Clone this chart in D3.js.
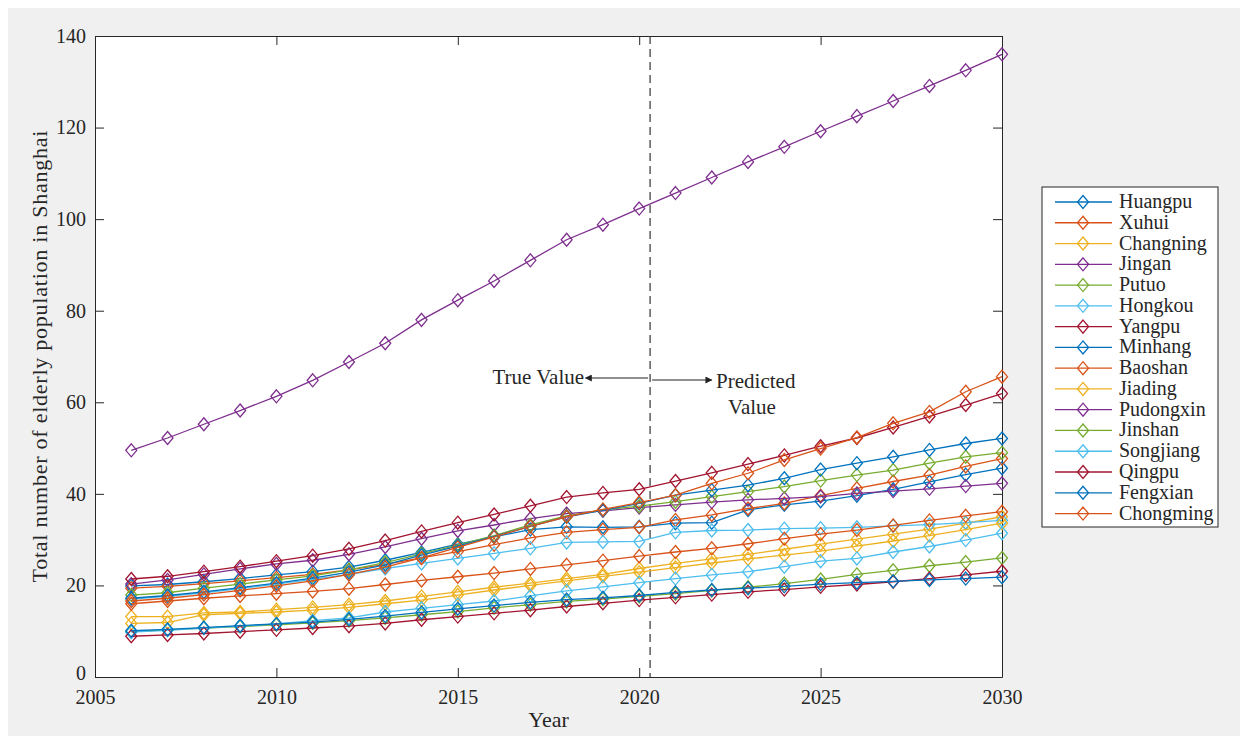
<!DOCTYPE html>
<html>
<head>
<meta charset="utf-8">
<script src="https://cdn.jsdelivr.net/npm/d3@7"></script>
<style>
  body { margin: 0; background: #fff; }
  svg { display: block; }
  text { font-family: "Liberation Serif", "Times New Roman", serif; fill: #262626; }
</style>
</head>
<body>
<script>
// years on the x axis
const years = [2006, 2007, 2008, 2009, 2010, 2011, 2012, 2013, 2014, 2015, 2016, 2017, 2018,
  2019, 2020, 2021, 2022, 2023, 2024, 2025, 2026, 2027, 2028, 2029, 2030];

const districts = ['Huangpu', 'Xuhui', 'Changning', 'Jingan', 'Putuo', 'Hongkou', 'Yangpu', 'Minhang',
  'Baoshan', 'Jiading', 'Pudongxin', 'Jinshan', 'Songjiang', 'Qingpu', 'Fengxian', 'Chongming'];

// elderly population (10k)
const huangpu   = [19.9, 20.2, 20.8, 21.5, 22.3, 23.0, 24.0, 25.5, 27.2, 29.0, 30.6, 32.2, 32.8, 32.7, 32.8, 33.6, 33.7, 36.5, 37.6, 38.4, 39.6, 41.0, 42.6, 44.2, 45.6];
const xuhui     = [19.4, 19.8, 20.4, 21.0, 21.7, 22.4, 23.4, 24.6, 26.0, 27.4, 28.9, 30.4, 31.6, 32.2, 32.7, 34.3, 35.4, 36.8, 37.9, 39.6, 41.2, 42.7, 44.1, 46.0, 47.7];
const changning = [13.2, 13.2, 14.0, 14.2, 14.7, 15.2, 15.8, 16.6, 17.6, 18.6, 19.6, 20.5, 21.5, 22.4, 23.7, 24.8, 25.8, 26.8, 27.9, 29.0, 30.1, 31.2, 32.3, 33.6, 35.0];
const jingan    = [20.3, 21.2, 22.4, 23.6, 24.7, 25.5, 26.8, 28.4, 30.2, 31.9, 33.2, 34.6, 35.7, 36.3, 37.0, 37.6, 38.2, 38.7, 39.0, 39.4, 40.1, 40.6, 41.1, 41.7, 42.3];
const putuo     = [17.9, 18.4, 19.4, 20.3, 21.2, 22.1, 23.4, 25.0, 26.9, 28.8, 30.9, 33.2, 35.2, 36.5, 37.3, 38.3, 39.4, 40.5, 41.6, 42.9, 44.1, 45.2, 46.7, 48.1, 49.0];
const hongkou   = [17.0, 17.6, 18.4, 19.3, 20.3, 21.3, 22.4, 23.7, 24.8, 25.9, 27.0, 28.1, 29.4, 29.5, 29.6, 31.6, 32.0, 32.1, 32.4, 32.5, 32.7, 33.0, 33.3, 33.7, 34.2];
const yangpu    = [21.4, 22.0, 23.0, 24.1, 25.3, 26.5, 28.0, 29.8, 31.8, 33.7, 35.5, 37.4, 39.3, 40.2, 41.0, 42.8, 44.6, 46.5, 48.4, 50.4, 52.2, 54.5, 56.9, 59.4, 61.9];
const minhang   = [17.2, 17.8, 18.6, 19.5, 20.5, 21.6, 22.9, 24.5, 26.6, 28.6, 30.7, 32.9, 35.0, 36.4, 37.9, 39.7, 40.8, 41.9, 43.4, 45.3, 46.7, 48.1, 49.6, 51.0, 52.1];
const baoshan   = [16.6, 17.2, 18.0, 18.9, 19.9, 21.0, 22.4, 24.0, 26.0, 28.3, 30.6, 32.9, 35.0, 36.6, 38.1, 39.7, 42.3, 44.5, 47.4, 49.9, 52.3, 55.4, 57.9, 62.3, 65.6];
const jiading   = [11.7, 11.9, 13.6, 13.9, 14.2, 14.6, 15.2, 16.0, 16.8, 17.9, 19.0, 20.0, 21.0, 22.0, 22.9, 23.9, 24.9, 25.8, 26.6, 27.5, 28.6, 29.7, 30.9, 32.2, 33.6];
const pudongxin = [49.5, 52.2, 55.2, 58.2, 61.3, 64.8, 68.8, 72.9, 78.0, 82.3, 86.5, 91.0, 95.5, 98.8, 102.3, 105.7, 109.1, 112.5, 115.8, 119.2, 122.5, 125.8, 129.1, 132.5, 136.0];
const jinshan   = [9.9, 10.3, 10.7, 11.0, 11.4, 11.8, 12.3, 12.9, 13.6, 14.3, 15.1, 15.8, 16.5, 17.0, 17.6, 18.2, 18.9, 19.6, 20.4, 21.3, 22.4, 23.3, 24.3, 25.1, 26.0];
const songjiang = [9.8, 10.2, 10.7, 11.1, 11.6, 12.3, 12.9, 14.2, 15.0, 15.8, 16.6, 17.7, 18.8, 19.7, 20.6, 21.5, 22.3, 23.0, 24.1, 25.3, 25.9, 27.3, 28.5, 29.9, 31.4];
const qingpu    = [8.9, 9.2, 9.5, 9.9, 10.3, 10.7, 11.1, 11.7, 12.5, 13.2, 13.9, 14.6, 15.4, 16.1, 16.8, 17.4, 18.0, 18.6, 19.1, 19.7, 20.2, 20.8, 21.5, 22.3, 23.1];
const fengxian  = [10.1, 10.4, 10.8, 11.2, 11.6, 12.0, 12.6, 13.3, 14.1, 14.9, 15.6, 16.3, 16.9, 17.3, 17.8, 18.5, 19.0, 19.4, 19.8, 20.3, 20.6, 20.9, 21.2, 21.5, 21.8];
const chongming = [16.0, 16.6, 17.2, 17.7, 18.2, 18.7, 19.3, 20.2, 21.1, 21.9, 22.7, 23.6, 24.5, 25.4, 26.4, 27.3, 28.1, 29.1, 30.2, 31.2, 32.1, 33.1, 34.2, 35.2, 36.1];

const xTicks = [2005, 2010, 2015, 2020, 2025, 2030];
const yTicks = [0, 20, 40, 60, 80, 100, 120, 140];
const splitYear = 2020.3;

const allValues = [huangpu, xuhui, changning, jingan, putuo, hongkou, yangpu, minhang,
  baoshan, jiading, pudongxin, jinshan, songjiang, qingpu, fengxian, chongming];

// matlab default line order
const palette = ['#0072BD', '#D95319', '#EDB120', '#7E2F8E', '#77AC30', '#4DBEEE', '#A2142F'];

const series = districts.map((name, i) => ({
  name,
  color: palette[i % palette.length],
  points: years.map((yr, j) => ({ year: yr, value: allValues[i][j] }))
}));

const W = 1240, H = 736;
const plotL = 95, plotR = 1002, plotT = 36, plotB = 677;

const svg = d3.select('body').append('svg')
  .attr('width', W)
  .attr('height', H);

// figure background
svg.append('rect')
  .attr('x', 8).attr('y', 8)
  .attr('width', W - 8).attr('height', H - 8)
  .attr('fill', '#f0f0f0');

svg.append('rect')
  .attr('x', plotL).attr('y', plotT)
  .attr('width', plotR - plotL).attr('height', plotB - plotT)
  .attr('fill', '#fff');

const x = d3.scaleLinear().domain([2005, 2030]).range([plotL, plotR]);
const y = d3.scaleLinear().domain([0, 140]).range([plotB, plotT]);

const tickLen = 9;

const gx = svg.append('g')
  .attr('transform', `translate(0,${plotB})`)
  .call(d3.axisBottom(x).tickValues(xTicks).tickFormat(d3.format('d'))
    .tickSizeInner(-tickLen).tickSizeOuter(0).tickPadding(13));

const gy = svg.append('g')
  .attr('transform', `translate(${plotL},0)`)
  .call(d3.axisLeft(y).tickValues(yTicks)
    .tickSizeInner(-tickLen).tickSizeOuter(0).tickPadding(9));

const gxTop = svg.append('g')
  .attr('transform', `translate(0,${plotT})`)
  .call(d3.axisTop(x).tickValues(xTicks).tickFormat('')
    .tickSizeInner(-tickLen).tickSizeOuter(0));

const gyRight = svg.append('g')
  .attr('transform', `translate(${plotR},0)`)
  .call(d3.axisRight(y).tickValues(yTicks).tickFormat('')
    .tickSizeInner(-tickLen).tickSizeOuter(0));

[gx, gy, gxTop, gyRight].forEach(g => {
  g.select('.domain').attr('stroke', '#262626').attr('stroke-width', 1);
  g.selectAll('.tick line').attr('stroke', '#262626');
  g.selectAll('.tick text')
    .attr('fill', '#262626')
    .style('font-family', '"Liberation Serif", serif')
    .style('font-size', '20px');
});

// the zero label sits a little higher so it clears the 2005 label
gy.selectAll('.tick text').filter(d => d === 0).attr('dy', '0.12em');

// axis titles
svg.append('text')
  .attr('x', (plotL + plotR) / 2)
  .attr('y', 727)
  .attr('text-anchor', 'middle')
  .style('font-size', '22px')
  .text('Year');

svg.append('text')
  .attr('transform', `translate(47,${(plotT + plotB) / 2}) rotate(-90)`)
  .attr('text-anchor', 'middle')
  .attr('textLength', 452)
  .attr('lengthAdjust', 'spacing')
  .style('font-size', '22px')
  .text('Total number of elderly population in Shanghai');

// split between observed and predicted
svg.append('line')
  .attr('x1', x(splitYear)).attr('x2', x(splitYear))
  .attr('y1', plotT).attr('y2', plotB)
  .attr('stroke', '#333')
  .attr('stroke-width', 1.2)
  .attr('stroke-dasharray', '8,5');

const line = d3.line()
  .x(d => x(d.year))
  .y(d => y(d.value));

const diamond = 'M0,-6.5L5.5,0L0,6.5L-5.5,0Z';

const groups = svg.append('g')
  .selectAll('g')
  .data(series)
  .enter()
  .append('g');

groups.append('path')
  .attr('d', d => line(d.points))
  .attr('fill', 'none')
  .attr('stroke', d => d.color)
  .attr('stroke-width', 1.3);

groups.selectAll('path.mk')
  .data(d => d.points.map(p => ({ ...p, color: d.color })))
  .enter()
  .append('path')
  .attr('class', 'mk')
  .attr('d', diamond)
  .attr('transform', d => `translate(${x(d.year)},${y(d.value)})`)
  .attr('fill', 'none')
  .attr('stroke', d => d.color)
  .attr('stroke-width', 1.3);

// arrows + labels
const defs = svg.append('defs');
defs.append('marker')
  .attr('id', 'arrow')
  .attr('viewBox', '0 0 10 10')
  .attr('refX', 9).attr('refY', 5)
  .attr('markerWidth', 9).attr('markerHeight', 7)
  .attr('markerUnits', 'userSpaceOnUse')
  .attr('orient', 'auto')
  .append('path')
  .attr('d', 'M0,0L10,5L0,10Z')
  .attr('fill', '#222');

const arrowY = y(65.3);
svg.append('line')
  .attr('x1', x(splitYear) - 2).attr('x2', x(2018.52))
  .attr('y1', arrowY).attr('y2', arrowY)
  .attr('stroke', '#222').attr('stroke-width', 1.1)
  .attr('marker-end', 'url(#arrow)');
svg.append('line')
  .attr('x1', x(splitYear) + 2).attr('x2', x(2022.0))
  .attr('y1', arrowY + 2).attr('y2', arrowY + 2)
  .attr('stroke', '#222').attr('stroke-width', 1.1)
  .attr('marker-end', 'url(#arrow)');

svg.append('text')
  .attr('x', x(2018.48)).attr('y', arrowY + 6)
  .attr('text-anchor', 'end')
  .style('font-size', '21px')
  .text('True Value');
svg.append('text')
  .attr('x', x(2022.12)).attr('y', arrowY + 10)
  .style('font-size', '21px')
  .text('Predicted');
svg.append('text')
  .attr('x', x(2022.45)).attr('y', arrowY + 36)
  .style('font-size', '21px')
  .text('Value');

// legend
const lg = svg.append('g').attr('transform', 'translate(1042,187)');
lg.append('rect')
  .attr('width', 176).attr('height', 340)
  .attr('fill', '#fff')
  .attr('stroke', '#262626').attr('stroke-width', 1);

const rowH = 20.77;
const rows = lg.selectAll('g.row')
  .data(series)
  .enter()
  .append('g')
  .attr('class', 'row')
  .attr('transform', (d, i) => `translate(0,${15 + i * rowH})`);

rows.append('line')
  .attr('x1', 13).attr('x2', 70)
  .attr('stroke', d => d.color)
  .attr('stroke-width', 1.3);
rows.append('path')
  .attr('d', diamond)
  .attr('transform', 'translate(41,0)')
  .attr('fill', 'none')
  .attr('stroke', d => d.color)
  .attr('stroke-width', 1.3);
rows.append('text')
  .attr('x', 77).attr('y', 6)
  .style('font-size', '20px')
  .text(d => d.name);
</script>
</body>
</html>
